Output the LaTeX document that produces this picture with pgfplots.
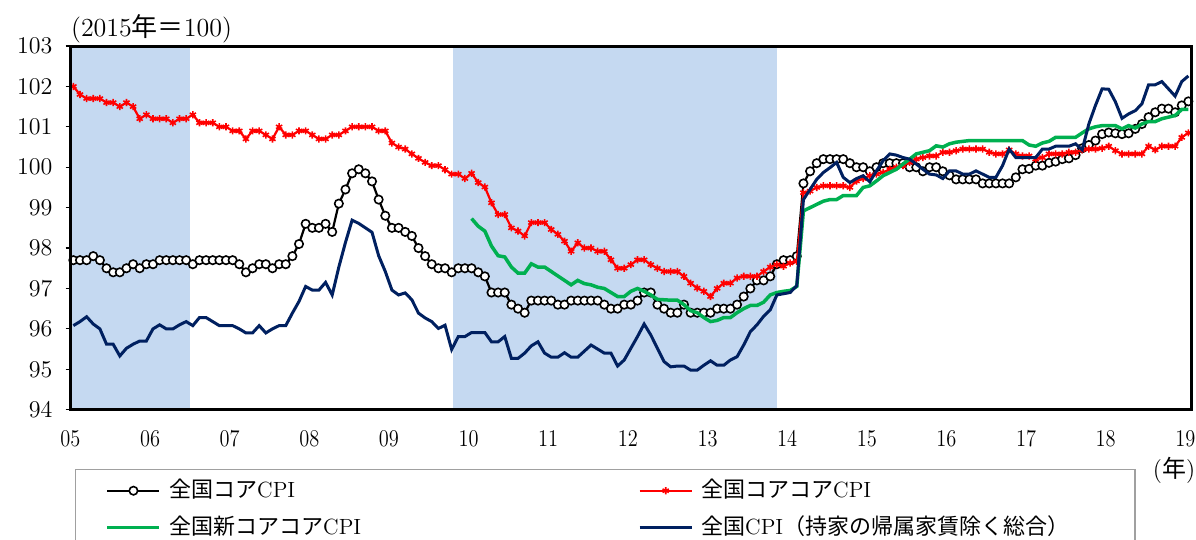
\documentclass[border=0pt]{standalone}
\usepackage{fontspec}
\newfontfamily\jp{Noto Sans CJK JP}
\usepackage{graphicx}
\usepackage{pgfplots}
\pgfplotsset{compat=1.18}

\definecolor{bandblue}{RGB}{197,217,241}
\definecolor{corered}{RGB}{255,0,0}
\definecolor{newgreen}{RGB}{0,176,80}
\definecolor{cpinavy}{RGB}{0,32,96}
\definecolor{legframe}{RGB}{160,160,160}

\newcommand{\yl}[1]{\scalebox{0.85}[1]{#1}}

\begin{document}
\begin{tikzpicture}
% page = 1196 x 540 px at 0.5pt per px
\path[use as bounding box] (0,0) rectangle (598pt,270pt);
\begin{axis}[
    at={(35.35pt,65.15pt)}, anchor=south west,
    scale only axis, width=560.5pt, height=181.85pt,
    xmin=-0.4, xmax=168.5, ymin=94, ymax=103,
    xtick={0,12,...,168},
    xticklabels={\yl{05},\yl{06},\yl{07},\yl{08},\yl{09},\yl{10},\yl{11},\yl{12},\yl{13},\yl{14},\yl{15},\yl{16},\yl{17},\yl{18},\yl{19}},
    ytick={94,...,103},
    axis line style={line width=1.5pt},
    axis on top,
    clip mode=individual,
    tick align=outside,
    xtick pos=bottom, ytick pos=left,
    xtick style={draw=none},
    ytick style={black, line width=0.6pt},
    major tick length=2.5pt,
    xticklabel style={font=\fontsize{12}{14}\selectfont, inner sep=0pt, anchor=north, yshift=-7.5pt, xshift=-1.5pt},
    yticklabel style={font=\fontsize{12}{14}\selectfont, inner sep=0pt, anchor=east, xshift=-6.5pt},
    legend columns=2,
    legend cell align=left,
    legend style={
        at={(0.0038,-0.163)}, anchor=north west,
        draw=legframe, line width=0.75pt,
        inner xsep=15pt, inner ysep=4.75pt,
        row sep=7pt,
        font=\fontsize{11}{13}\selectfont,
        nodes={inner sep=0pt, text height=9pt, text depth=2.5pt},
        /tikz/every odd column/.append style={column sep=4pt},
        /tikz/column 2/.append style={column sep=4.5pt, text width=230pt},
        /tikz/column 4/.append style={text width=202pt},
    },
    legend image code/.code={\draw[mark repeat=2,mark phase=2,#1] plot coordinates {(0pt,0pt) (13pt,0pt) (26pt,0pt)};},
]

% shaded periods
\addplot[fill=bandblue, draw=none, forget plot] coordinates {(-0.4,94) (-0.4,103) (17.5,103) (17.5,94)} -- cycle;
\addplot[fill=bandblue, draw=none, forget plot] coordinates {(57.25,94) (57.25,103) (106,103) (106,94)} -- cycle;

% core CPI (month index, 0 = Jan 2005)
\addplot[black, line width=1.1pt, mark=*, mark size=2.1pt, mark options={fill=white, draw=black, line width=0.8pt}] coordinates {
(0,97.7) (1,97.7) (2,97.7) (3,97.8) (4,97.7) (5,97.5) (6,97.4) (7,97.4) (8,97.5) (9,97.6) (10,97.5) (11,97.6)
(12,97.6) (13,97.7) (14,97.7) (15,97.7) (16,97.7) (17,97.7) (18,97.6) (19,97.7) (20,97.7) (21,97.7) (22,97.7) (23,97.7)
(24,97.7) (25,97.6) (26,97.4) (27,97.5) (28,97.6) (29,97.6) (30,97.5) (31,97.6) (32,97.6) (33,97.8) (34,98.1) (35,98.6)
(36,98.5) (37,98.5) (38,98.6) (39,98.4) (40,99.1) (41,99.45) (42,99.85) (43,99.95) (44,99.85) (45,99.65) (46,99.2) (47,98.8)
(48,98.5) (49,98.5) (50,98.4) (51,98.3) (52,98.0) (53,97.8) (54,97.6) (55,97.5) (56,97.5) (57,97.4) (58,97.5) (59,97.5)
(60,97.5) (61,97.4) (62,97.3) (63,96.9) (64,96.9) (65,96.9) (66,96.6) (67,96.5) (68,96.4) (69,96.7) (70,96.7) (71,96.7)
(72,96.7) (73,96.6) (74,96.6) (75,96.7) (76,96.7) (77,96.7) (78,96.7) (79,96.7) (80,96.6) (81,96.5) (82,96.5) (83,96.6)
(84,96.6) (85,96.7) (86,96.9) (87,96.9) (88,96.6) (89,96.5) (90,96.4) (91,96.4) (92,96.6) (93,96.4) (94,96.4) (95,96.4)
(96,96.4) (97,96.5) (98,96.5) (99,96.5) (100,96.6) (101,96.8) (102,97.0) (103,97.2) (104,97.2) (105,97.3) (106,97.6) (107,97.7)
(108,97.7) (109,97.8) (110,99.6) (111,99.9) (112,100.1) (113,100.2) (114,100.2) (115,100.2) (116,100.2) (117,100.1) (118,100.0) (119,100.0)
(120,99.9) (121,100.0) (122,100.1) (123,100.1) (124,100.1) (125,100.1) (126,100.0) (127,100.0) (128,99.9) (129,100.0) (130,100.0) (131,99.9)
(132,99.8) (133,99.7) (134,99.7) (135,99.7) (136,99.7) (137,99.6) (138,99.6) (139,99.6) (140,99.6) (141,99.6) (142,99.75) (143,99.95)
(144,99.96) (145,100.04) (146,100.04) (147,100.11) (148,100.14) (149,100.2) (150,100.22) (151,100.3) (152,100.47) (153,100.55) (154,100.66) (155,100.82)
(156,100.86) (157,100.84) (158,100.82) (159,100.84) (160,100.95) (161,101.07) (162,101.24) (163,101.36) (164,101.45) (165,101.45) (166,101.36) (167,101.53)
(168,101.63)
};
\addlegendentry{{\jp 全国コア}CPI}

% core-core CPI
\addplot[corered, line width=1.1pt, mark=asterisk, mark size=1.8pt, mark options={line width=0.8pt}] coordinates {
(0,102.0) (1,101.8) (2,101.7) (3,101.7) (4,101.7) (5,101.6) (6,101.6) (7,101.5) (8,101.6) (9,101.5) (10,101.2) (11,101.3)
(12,101.2) (13,101.2) (14,101.2) (15,101.1) (16,101.2) (17,101.2) (18,101.3) (19,101.1) (20,101.1) (21,101.1) (22,101.0) (23,101.0)
(24,100.9) (25,100.9) (26,100.7) (27,100.9) (28,100.9) (29,100.8) (30,100.7) (31,101.0) (32,100.8) (33,100.8) (34,100.9) (35,100.9)
(36,100.8) (37,100.7) (38,100.7) (39,100.8) (40,100.8) (41,100.9) (42,101.0) (43,101.0) (44,101.0) (45,101.0) (46,100.9) (47,100.9)
(48,100.6) (49,100.5) (50,100.45) (51,100.33) (52,100.22) (53,100.12) (54,100.04) (55,100.04) (56,99.94) (57,99.83) (58,99.83) (59,99.72)
(60,99.85) (61,99.62) (62,99.51) (63,99.12) (64,98.83) (65,98.83) (66,98.5) (67,98.42) (68,98.3) (69,98.63) (70,98.63) (71,98.63)
(72,98.46) (73,98.34) (74,98.17) (75,97.92) (76,98.13) (77,98.0) (78,98.0) (79,97.92) (80,97.92) (81,97.71) (82,97.5) (83,97.5)
(84,97.59) (85,97.71) (86,97.71) (87,97.59) (88,97.5) (89,97.42) (90,97.42) (91,97.42) (92,97.3) (93,97.13) (94,97.01) (95,96.93)
(96,96.8) (97,97.0) (98,97.13) (99,97.13) (100,97.26) (101,97.3) (102,97.3) (103,97.3) (104,97.42) (105,97.53) (106,97.59) (107,97.55)
(108,97.63) (109,97.67) (110,99.37) (111,99.41) (112,99.5) (113,99.54) (114,99.54) (115,99.54) (116,99.54) (117,99.5) (118,99.66) (119,99.72)
(120,99.79) (121,99.83) (122,99.87) (123,99.95) (124,100.0) (125,100.04) (126,100.12) (127,100.2) (128,100.24) (129,100.28) (130,100.28) (131,100.37)
(132,100.37) (133,100.41) (134,100.45) (135,100.45) (136,100.45) (137,100.45) (138,100.37) (139,100.33) (140,100.33) (141,100.43) (142,100.33) (143,100.28)
(144,100.28) (145,100.2) (146,100.24) (147,100.33) (148,100.33) (149,100.33) (150,100.37) (151,100.37) (152,100.43) (153,100.45) (154,100.45) (155,100.47)
(156,100.52) (157,100.41) (158,100.33) (159,100.33) (160,100.33) (161,100.33) (162,100.52) (163,100.43) (164,100.52) (165,100.52) (166,100.52) (167,100.74)
(168,100.85)
};
\addlegendentry{{\jp 全国コアコア}CPI}

% new core-core CPI (from Jan 2010)
\addplot[newgreen, line width=1.75pt] coordinates {
(60,98.73) (61,98.54) (62,98.42) (63,98.05) (64,97.81) (65,97.78) (66,97.53) (67,97.38) (68,97.38) (69,97.61) (70,97.53) (71,97.53)
(72,97.42) (73,97.31) (74,97.2) (75,97.09) (76,97.2) (77,97.12) (78,97.09) (79,97.03) (80,97.0) (81,96.9) (82,96.8) (83,96.8)
(84,96.93) (85,97.0) (86,96.93) (87,96.84) (88,96.73) (89,96.72) (90,96.71) (91,96.71) (92,96.6) (93,96.45) (94,96.4) (95,96.28)
(96,96.18) (97,96.21) (98,96.28) (99,96.28) (100,96.4) (101,96.5) (102,96.58) (103,96.58) (104,96.66) (105,96.84) (106,96.9) (107,96.93)
(108,96.95) (109,97.05) (110,98.92) (111,99.0) (112,99.08) (113,99.16) (114,99.2) (115,99.2) (116,99.3) (117,99.3) (118,99.3) (119,99.5)
(120,99.54) (121,99.66) (122,99.79) (123,99.87) (124,99.95) (125,100.08) (126,100.2) (127,100.33) (128,100.37) (129,100.41) (130,100.53) (131,100.5)
(132,100.58) (133,100.62) (134,100.64) (135,100.66) (136,100.66) (137,100.66) (138,100.66) (139,100.66) (140,100.66) (141,100.66) (142,100.66) (143,100.66)
(144,100.55) (145,100.52) (146,100.6) (147,100.64) (148,100.74) (149,100.74) (150,100.74) (151,100.74) (152,100.85) (153,100.95) (154,101.0) (155,101.03)
(156,101.03) (157,101.03) (158,100.95) (159,101.03) (160,100.97) (161,101.07) (162,101.13) (163,101.13) (164,101.2) (165,101.24) (166,101.28) (167,101.43)
(168,101.43)
};
\addlegendentry{{\jp 全国新コアコア}CPI}

% CPI excluding imputed rent
\addplot[cpinavy, line width=1.5pt] coordinates {
(0,96.08) (1,96.18) (2,96.3) (3,96.12) (4,96.0) (5,95.62) (6,95.62) (7,95.33) (8,95.52) (9,95.62) (10,95.7) (11,95.7)
(12,96.0) (13,96.1) (14,96.0) (15,96.0) (16,96.1) (17,96.18) (18,96.08) (19,96.28) (20,96.28) (21,96.18) (22,96.08) (23,96.08)
(24,96.08) (25,96.0) (26,95.9) (27,95.9) (28,96.08) (29,95.9) (30,96.0) (31,96.08) (32,96.08) (33,96.39) (34,96.68) (35,97.05)
(36,96.96) (37,96.96) (38,97.15) (39,96.84) (40,97.53) (41,98.14) (42,98.69) (43,98.61) (44,98.5) (45,98.39) (46,97.81) (47,97.42)
(48,96.96) (49,96.84) (50,96.89) (51,96.72) (52,96.39) (53,96.27) (54,96.18) (55,96.01) (56,96.09) (57,95.49) (58,95.81) (59,95.81)
(60,95.91) (61,95.91) (62,95.91) (63,95.68) (64,95.68) (65,95.81) (66,95.27) (67,95.27) (68,95.4) (69,95.58) (70,95.68) (71,95.4)
(72,95.3) (73,95.3) (74,95.41) (75,95.3) (76,95.3) (77,95.45) (78,95.6) (79,95.5) (80,95.4) (81,95.4) (82,95.08) (83,95.23)
(84,95.52) (85,95.81) (86,96.12) (87,95.85) (88,95.52) (89,95.19) (90,95.06) (91,95.08) (92,95.08) (93,94.98) (94,94.98) (95,95.1)
(96,95.21) (97,95.1) (98,95.1) (99,95.23) (100,95.31) (101,95.6) (102,95.93) (103,96.1) (104,96.31) (105,96.47) (106,96.84) (107,96.87)
(108,96.9) (109,97.07) (110,99.2) (111,99.45) (112,99.7) (113,99.87) (114,99.99) (115,100.12) (116,99.75) (117,99.62) (118,99.72) (119,99.79)
(120,99.64) (121,99.91) (122,100.16) (123,100.33) (124,100.3) (125,100.24) (126,100.2) (127,100.08) (128,99.95) (129,99.83) (130,99.81) (131,99.72)
(132,99.91) (133,99.91) (134,99.83) (135,99.83) (136,99.91) (137,99.83) (138,99.75) (139,99.75) (140,100.04) (141,100.45) (142,100.24) (143,100.24)
(144,100.24) (145,100.24) (146,100.45) (147,100.45) (148,100.52) (149,100.52) (150,100.52) (151,100.58) (152,100.43) (153,101.07) (154,101.53) (155,101.94)
(156,101.93) (157,101.62) (158,101.21) (159,101.32) (160,101.4) (161,101.57) (162,102.04) (163,102.04) (164,102.12) (165,101.94) (166,101.76) (167,102.12)
(168,102.26)
};
\addlegendentry{{\jp 全国}CPI{\jp （持家の帰属家賃除く総合）}}

\node[anchor=west, inner sep=0pt, font=\fontsize{13}{15}\selectfont, xshift=0pt, yshift=8.75pt] at (rel axis cs:0,1) {(2015{\jp 年＝}100)};
\node[anchor=center, inner sep=0pt, font=\fontsize{12}{14}\selectfont, xshift=-8.85pt, yshift=-30.5pt] at (rel axis cs:1,0) {({\jp 年})};
\end{axis}
\end{tikzpicture}
\end{document}
